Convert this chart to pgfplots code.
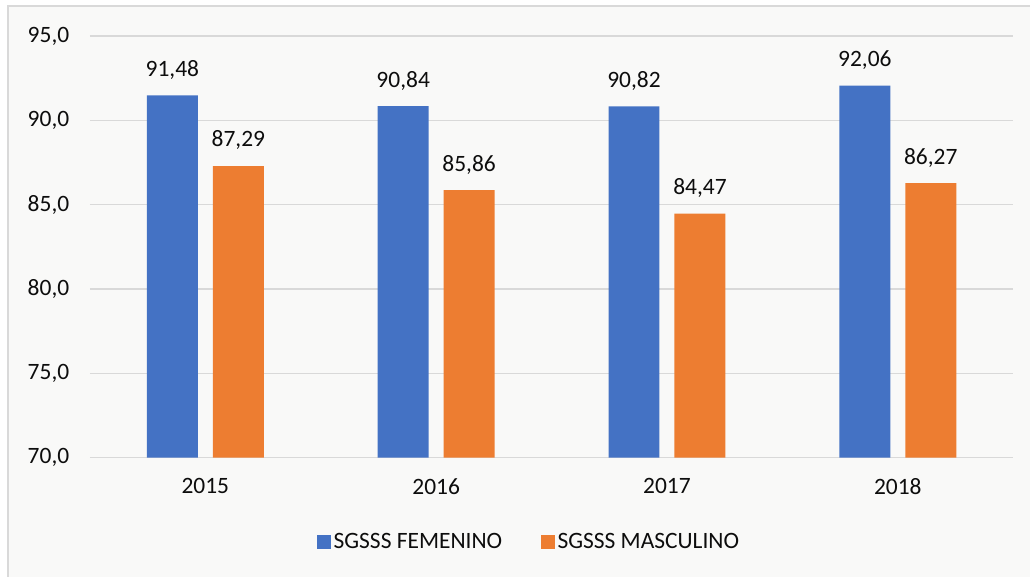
\documentclass[border=0pt]{standalone}
\usepackage{pgfplots}
\pgfplotsset{compat=1.18}
\usepackage{fontspec}
\setmainfont{Carlito}
\definecolor{fem}{HTML}{4472C4}
\definecolor{mas}{HTML}{ED7D31}
\definecolor{gridc}{HTML}{D9D9D9}
\definecolor{bgc}{HTML}{F9F9F8}
\definecolor{txt}{HTML}{0D0D0D}
\begin{document}
\begin{tikzpicture}[x=0.75pt,y=0.75pt]
\fill[white] (0,0) rectangle (1031,577);
\fill[bgc] (8,0) rectangle (1031,571);
\draw[gridc, line width=1.2pt] (8,0) -- (8,571) -- (1031,571);
\useasboundingbox (0,0) rectangle (1031,577);
\begin{axis}[
  at={(67.5pt,89.25pt)}, anchor=south west,
  scale only axis, width=693pt, height=316.5pt,
  xmin=-0.5, xmax=3.5, ymin=70, ymax=95,
  ybar=11.25pt, bar width=38.25pt,
  xtick={0,1,2,3}, xticklabels={2015,2016,2017,2018},
  ytick={70,75,80,85,90,95},
  ymajorgrids, grid style={gridc, line width=1.1pt},
  axis line style={draw=none}, tick style={draw=none},
  /pgf/number format/assume math mode=true,
  /pgf/number format/use comma,
  yticklabel={\pgfmathprintnumber[fixed,fixed zerofill,precision=1]{\tick}},
  yticklabel style={font=\fontsize{17.6}{21}\selectfont, text=txt, xshift=-12pt},
  xticklabel style={font=\fontsize{17.6}{21}\selectfont, text=txt, yshift=-8pt},
  nodes near coords,
  nodes near coords style={font=\fontsize{17.6}{21}\selectfont, text=txt, yshift=8.5pt,
    /pgf/number format/.cd, fixed, fixed zerofill, precision=2, use comma, assume math mode=true},
  legend style={at={(0.476,-0.199)}, anchor=center, draw=none, fill=none,
    font=\fontsize{17.6}{21}\selectfont, text=txt,
    /tikz/every even column/.append style={column sep=27pt}},
  legend columns=2,
  legend image code/.code={\fill[#1,draw=none] (0pt,-5.25pt) rectangle (10.5pt,5.25pt);},
]
\addplot[fill=fem, draw=none] coordinates {(0,91.48) (1,90.84) (2,90.82) (3,92.06)};
\addplot[fill=mas, draw=none] coordinates {(0,87.29) (1,85.86) (2,84.47) (3,86.27)};
\legend{SGSSS FEMENINO, SGSSS MASCULINO}
\end{axis}
\end{tikzpicture}
\end{document}
